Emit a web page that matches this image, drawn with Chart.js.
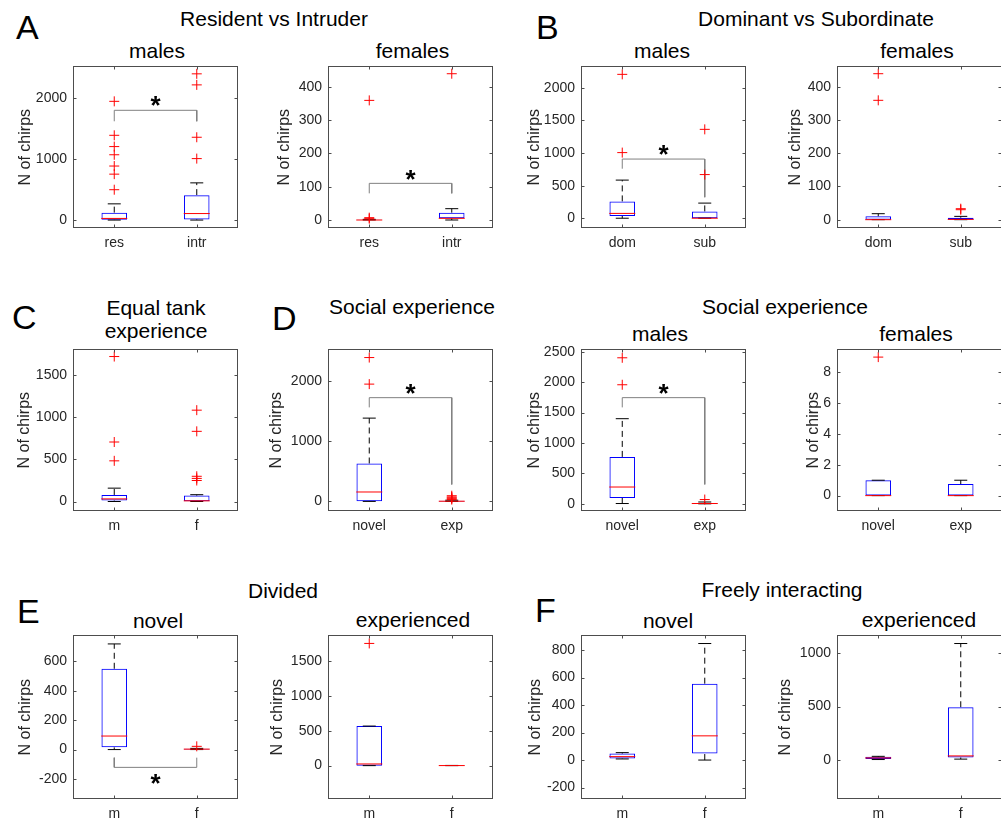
<!DOCTYPE html>
<html><head><meta charset="utf-8">
<script src="https://cdn.jsdelivr.net/npm/chart.js@4.4.1/dist/chart.umd.min.js"></script>
<style>
html,body{margin:0;padding:0;background:#fff;}
body{width:1001px;height:822px;overflow:hidden;position:relative;font-family:"Liberation Sans",Arial,Helvetica,sans-serif;}
.pc{position:absolute;}
.tx{position:absolute;white-space:nowrap;color:#000;}
</style></head><body>
<script>
// ---------------- DATA ----------------
// A: Resident vs Intruder, males
const aMaleCats = ['res', 'intr'];
const aMaleQ1 = [5, 11];
const aMaleMed = [27, 107];
const aMaleQ3 = [122, 409];
const aMaleLo = [0, 0];
const aMaleHi = [266, 610];
const aMaleOut = [[498, 753, 886, 1071, 1205, 1390, 1947], [1008, 1358, 2217, 2398]];
const aMaleBracket = [1620, 1800, 1620];
const aMaleYLim = [-130, 2520];
const aMaleTicks = [0, 1000, 2000];
// A: females
const aFemCats = ['res', 'intr'];
const aFemQ1 = [0, 5];
const aFemMed = [0, 5];
const aFemQ3 = [1, 22];
const aFemLo = [0, 0];
const aFemHi = [2, 34];
const aFemOut = [[4, 7, 359], [439]];
const aFemBracket = [80, 110, 80];
const aFemYLim = [-24, 461];
const aFemTicks = [0, 100, 200, 300, 400];
// B: Dominant vs Subordinate, males
const bMaleCats = ['dom', 'sub'];
const bMaleQ1 = [34, 0];
const bMaleMed = [74, 0];
const bMaleQ3 = [258, 104];
const bMaleLo = [0, 0];
const bMaleHi = [585, 232];
const bMaleOut = [[1007, 2208], [670, 1364]];
const bMaleBracket = [760, 908, 322];
const bMaleYLim = [-150, 2330];
const bMaleTicks = [0, 500, 1000, 1500, 2000];
// B: females
const bFemCats = ['dom', 'sub'];
const bFemQ1 = [0, 0];
const bFemMed = [0, 1];
const bFemQ3 = [10, 6];
const bFemLo = [0, 0];
const bFemHi = [18, 10];
const bFemOut = [[359, 439], [30, 33]];
const bFemYLim = [-25, 461];
const bFemTicks = [0, 100, 200, 300, 400];
// C: Equal tank experience
const cCats = ['m', 'f'];
const cQ1 = [12, 3];
const cMed = [31, 8];
const cQ3 = [78, 70];
const cLo = [0, 0];
const cHi = [159, 81];
const cOut = [[484, 708, 1725], [250, 275, 300, 835, 1087]];
const cYLim = [-113, 1810];
const cTicks = [0, 500, 1000, 1500];
// D: Social experience (all)
const dCats = ['novel', 'exp'];
const dQ1 = [3, 0];
const dMed = [157, 3];
const dQ3 = [632, 10];
const dLo = [0, 0];
const dHi = [1389, 20];
const dOut = [[1956, 2399], [30, 45, 60, 75, 95]];
const dBracket = [1568, 1730, 282];
const dYLim = [-160, 2535];
const dTicks = [0, 1000, 2000];
// D: males
const dMaleCats = ['novel', 'exp'];
const dMaleQ1 = [96, 0];
const dMaleMed = [276, 5];
const dMaleQ3 = [771, 15];
const dMaleLo = [5, 0];
const dMaleHi = [1399, 30];
const dMaleOut = [[1957, 2400], [70]];
const dMaleBracket = [1585, 1745, 319];
const dMaleYLim = [-118, 2538];
const dMaleTicks = [0, 500, 1000, 1500, 2000, 2500];
// D: females
const dFemCats = ['novel', 'exp'];
const dFemQ1 = [0, 0];
const dFemMed = [0, 0];
const dFemQ3 = [1, 0.75];
const dFemLo = [0, 0];
const dFemHi = [1, 1];
const dFemOut = [[9], []];
const dFemYLim = [-1, 9.5];
const dFemTicks = [0, 2, 4, 6, 8];
// E: Divided, novel
const eNovCats = ['m', 'f'];
const eNovQ1 = [15, 0];
const eNovMed = [92, 3];
const eNovQ3 = [549, 5];
const eNovLo = [0, 0];
const eNovHi = [718, 8];
const eNovOut = [[], [22]];
const eNovBracket = [-55, -121, -55];
const eNovYLim = [-336, 776];
const eNovTicks = [-200, 0, 200, 400, 600];
// E: experienced
const eExpCats = ['m', 'f'];
const eExpQ1 = [0, 0];
const eExpMed = [24, 1];
const eExpQ3 = [567, 2];
const eExpLo = [0, 0];
const eExpHi = [567, 3];
const eExpOut = [[1751], []];
const eExpYLim = [-478, 1866];
const eExpTicks = [0, 500, 1000, 1500];
// F: Freely interacting, novel
const fNovCats = ['m', 'f'];
const fNovQ1 = [11, 47];
const fNovMed = [25, 176];
const fNovQ3 = [47, 555];
const fNovLo = [8, 0];
const fNovHi = [54, 847];
const fNovOut = [[], []];
const fNovYLim = [-283, 906];
const fNovTicks = [-200, 0, 200, 400, 600, 800];
// F: experienced
const fExpCats = ['m', 'f'];
const fExpQ1 = [10, 24];
const fExpMed = [20, 39];
const fExpQ3 = [30, 494];
const fExpLo = [5, 9];
const fExpHi = [35, 1090];
const fExpOut = [[], []];
const fExpYLim = [-364, 1166];
const fExpTicks = [0, 500, 1000];

// ---------------- LAYOUT / STYLE ----------------
const FONT = '"Liberation Sans", Arial, Helvetica, sans-serif';
Chart.defaults.font.family = FONT;
const AXW = 62, PADT = 10, PADR = 10, XAH = 30, PW = 169;

const panels = [
  {d:{cats:aMaleCats,q1:aMaleQ1,med:aMaleMed,q3:aMaleQ3,lo:aMaleLo,hi:aMaleHi,out:aMaleOut,br:aMaleBracket,ylim:aMaleYLim,ticks:aMaleTicks}, L:73, T:62, B:228, lab:47.7},
  {d:{cats:aFemCats,q1:aFemQ1,med:aFemMed,q3:aFemQ3,lo:aFemLo,hi:aFemHi,out:aFemOut,br:aFemBracket,ylim:aFemYLim,ticks:aFemTicks}, L:328, T:62, B:228, lab:43.3},
  {d:{cats:bMaleCats,q1:bMaleQ1,med:bMaleMed,q3:bMaleQ3,lo:bMaleLo,hi:bMaleHi,out:bMaleOut,br:bMaleBracket,ylim:bMaleYLim,ticks:bMaleTicks}, L:581, T:62, B:228, lab:46.5},
  {d:{cats:bFemCats,q1:bFemQ1,med:bFemMed,q3:bFemQ3,lo:bFemLo,hi:bFemHi,out:bFemOut,br:null,ylim:bFemYLim,ticks:bFemTicks}, L:837, T:62, B:228, lab:41.7},
  {d:{cats:cCats,q1:cQ1,med:cMed,q3:cQ3,lo:cLo,hi:cHi,out:cOut,br:null,ylim:cYLim,ticks:cTicks}, L:73, T:345, B:511, lab:48.2},
  {d:{cats:dCats,q1:dQ1,med:dMed,q3:dQ3,lo:dLo,hi:dHi,out:dOut,br:dBracket,ylim:dYLim,ticks:dTicks}, L:328, T:345, B:511, lab:51.6},
  {d:{cats:dMaleCats,q1:dMaleQ1,med:dMaleMed,q3:dMaleQ3,lo:dMaleLo,hi:dMaleHi,out:dMaleOut,br:dMaleBracket,ylim:dMaleYLim,ticks:dMaleTicks}, L:581, T:345, B:511, lab:46},
  {d:{cats:dFemCats,q1:dFemQ1,med:dFemMed,q3:dFemQ3,lo:dFemLo,hi:dFemHi,out:dFemOut,br:null,ylim:dFemYLim,ticks:dFemTicks}, L:837, T:345, B:511, lab:23.4},
  {d:{cats:eNovCats,q1:eNovQ1,med:eNovMed,q3:eNovQ3,lo:eNovLo,hi:eNovHi,out:eNovOut,br:eNovBracket,ylim:eNovYLim,ticks:eNovTicks}, L:73, T:631, B:799, lab:47.7, starBelow:true},
  {d:{cats:eExpCats,q1:eExpQ1,med:eExpMed,q3:eExpQ3,lo:eExpLo,hi:eExpHi,out:eExpOut,br:null,ylim:eExpYLim,ticks:eExpTicks}, L:328, T:631, B:799, lab:50},
  {d:{cats:fNovCats,q1:fNovQ1,med:fNovMed,q3:fNovQ3,lo:fNovLo,hi:fNovHi,out:fNovOut,br:null,ylim:fNovYLim,ticks:fNovTicks}, L:581, T:631, B:799, lab:45.2},
  {d:{cats:fExpCats,q1:fExpQ1,med:fExpMed,q3:fExpQ3,lo:fExpLo,hi:fExpHi,out:fExpOut,br:null,ylim:fExpYLim,ticks:fExpTicks}, L:837, T:631, B:799, lab:51.7}
];

const texts = [
  // letters
  {s:'A', x:16, b:39, f:34, a:'left'}, {s:'B', x:536, b:39, f:34, a:'left'},
  {s:'C', x:12, b:329, f:34, a:'left'}, {s:'D', x:272, b:330, f:34, a:'left'},
  {s:'E', x:17, b:623, f:34, a:'left'}, {s:'F', x:535, b:622, f:34, a:'left'},
  // group titles
  {s:'Resident vs Intruder', x:274, b:26, f:21}, {s:'Dominant vs Subordinate', x:816, b:26, f:21},
  {s:'Equal tank', x:156, b:315, f:21}, {s:'experience', x:156, b:338, f:21},
  {s:'Social experience', x:412, b:314, f:21}, {s:'Social experience', x:785, b:314, f:21},
  {s:'Divided', x:283, b:598, f:21}, {s:'Freely interacting', x:782, b:597, f:21},
  // subplot titles
  {s:'males', x:157, b:58, f:21}, {s:'females', x:412.5, b:58, f:21},
  {s:'males', x:662, b:58, f:21}, {s:'females', x:917, b:58, f:21},
  {s:'males', x:660, b:341, f:21}, {s:'females', x:916, b:341, f:21},
  {s:'novel', x:158, b:628, f:21}, {s:'experienced', x:413, b:627, f:21},
  {s:'novel', x:668, b:628, f:21}, {s:'experienced', x:919, b:627, f:21}
];
texts.forEach(t => {
  const el = document.createElement('div');
  el.className = 'tx';
  el.textContent = t.s;
  el.style.fontSize = t.f + 'px';
  el.style.lineHeight = t.f + 'px';
  el.style.top = (t.b - 0.8465 * t.f) + 'px';
  el.style.left = t.x + 'px';
  if (t.a !== 'left') el.style.transform = 'translateX(-50%)';
  document.body.appendChild(el);
});

// Frame, inner ticks and significance star
const framePlugin = {
  id: 'frame',
  afterDraw(chart, args, opts) {
    const {ctx, chartArea: a, scales: {x, y}} = chart;
    ctx.save();
    ctx.strokeStyle = '#4d4d4d';
    ctx.lineWidth = 1;
    const l = Math.round(a.left) + 0.5, r = Math.round(a.right) - 0.5;
    const t = Math.round(a.top) + 0.5, b = Math.round(a.bottom) - 0.5;
    ctx.strokeRect(l, t, r - l, b - t);
    ctx.beginPath();
    y.ticks.forEach(tk => {
      const py = Math.round(y.getPixelForValue(tk.value)) + 0.5;
      ctx.moveTo(l, py); ctx.lineTo(l + 3, py);
      ctx.moveTo(r, py); ctx.lineTo(r - 3, py);
    });
    x.ticks.forEach((tk, i) => {
      const px = Math.round(x.getPixelForTick(i)) + 0.5;
      ctx.moveTo(px, b); ctx.lineTo(px, b - 3);
      ctx.moveTo(px, t); ctx.lineTo(px, t + 3);
    });
    ctx.stroke();
    if (opts.bracket) {
      const xm = (x.getPixelForTick(0) + x.getPixelForTick(1)) / 2;
      const yb = y.getPixelForValue(opts.bracket[1]);
      ctx.fillStyle = '#000';
      ctx.font = 'bold 26px ' + FONT;
      ctx.textAlign = 'center';
      ctx.textBaseline = 'middle';
      ctx.fillText('*', xm, opts.starBelow ? yb + 17.6 : yb - 3);
    }
    ctx.restore();
  }
};

function boxChart(p) {
  const d = p.d;
  const c = d.cats;
  const H = p.B - p.T;
  const wrap = document.createElement('div');
  wrap.className = 'pc';
  wrap.style.left = (p.L - AXW) + 'px';
  wrap.style.top = (p.T - PADT) + 'px';
  const cv = document.createElement('canvas');
  cv.width = AXW + PW + PADR;
  cv.height = PADT + H + XAH;
  wrap.appendChild(cv);
  document.body.appendChild(wrap);

  const pts = vals => vals.map((v, i) => ({x: c[i], y: v}));
  const ds = [];
  ds.push({type: 'bar', data: d.q1.map((v, i) => [v, d.q3[i]]), borderColor: '#0000ff',
    backgroundColor: 'rgba(0,0,0,0)', borderWidth: 1, borderSkipped: false,
    categoryPercentage: 1, barPercentage: 0.31, order: 3});
  c.forEach((cat, i) => {
    ds.push({type: 'line', data: [{x: cat, y: d.q3[i]}, {x: cat, y: d.hi[i]}], borderColor: '#000',
      borderWidth: 1, borderDash: [6, 4], pointRadius: 0, order: 4});
    ds.push({type: 'line', data: [{x: cat, y: d.lo[i]}, {x: cat, y: d.q1[i]}], borderColor: '#000',
      borderWidth: 1, borderDash: [6, 4], pointRadius: 0, order: 4});
  });
  ds.push({type: 'scatter', data: [...pts(d.lo), ...pts(d.hi)], pointStyle: 'line', pointRadius: 6.5,
    borderColor: '#000', pointBorderColor: '#000', borderWidth: 1, pointBorderWidth: 1, order: 2});
  ds.push({type: 'scatter', data: pts(d.med), pointStyle: 'line', pointRadius: 13,
    borderColor: '#ff0000', pointBorderColor: '#ff0000', borderWidth: 1, pointBorderWidth: 1, order: 1});
  ds.push({type: 'scatter', data: d.out.flatMap((arr, i) => arr.map(v => ({x: c[i], y: v}))),
    pointStyle: 'cross', pointRadius: 5, borderColor: '#ff0000', pointBorderColor: '#ff0000',
    borderWidth: 1, pointBorderWidth: 1, order: 0});
  if (d.br) {
    ds.push({type: 'line', data: [{x: c[0], y: d.br[0]}, {x: c[0], y: d.br[1]}, {x: c[1], y: d.br[1]}, {x: c[1], y: d.br[2]}],
      borderColor: '#808080', borderWidth: 1, pointRadius: 0, order: 5});
  }

  new Chart(cv, {
    type: 'bar',
    data: {labels: c, datasets: ds},
    options: {
      responsive: false, animation: false, events: [],
      layout: {padding: {top: PADT, right: PADR, left: 0, bottom: 0}},
      plugins: {legend: {display: false}, tooltip: {enabled: false},
        frame: {bracket: d.br, starBelow: !!p.starBelow}},
      scales: {
        x: {type: 'category', offset: true,
          grid: {display: false, drawTicks: false}, border: {display: false},
          ticks: {font: {size: 14}, color: '#262626', padding: 7, maxRotation: 0},
          afterFit: s => { s.height = XAH; }},
        y: {type: 'linear', min: d.ylim[0], max: d.ylim[1],
          grid: {display: false, drawTicks: false}, border: {display: false},
          afterBuildTicks: s => { s.ticks = d.ticks.map(v => ({value: v})); },
          ticks: {font: {size: 14}, color: '#262626', padding: 6, autoSkip: false,
            callback: v => String(v)},
          title: {display: true, text: 'N of chirps', color: '#262626', font: {size: 16},
            padding: {top: 52.4 - p.lab, bottom: 0}},
          afterFit: s => { s.width = AXW; }}
      }
    },
    plugins: [framePlugin]
  });
}
panels.forEach(boxChart);
</script>
</body></html>
